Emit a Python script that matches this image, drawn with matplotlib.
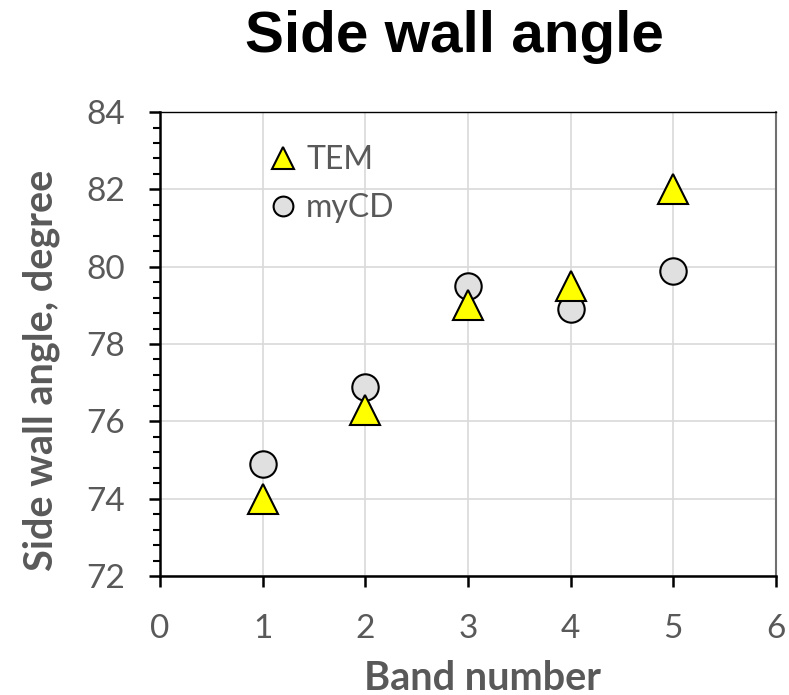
import numpy as np
import matplotlib.pyplot as plt
from matplotlib.ticker import MultipleLocator

# Data
band = [1, 2, 3, 4, 5]
tem = [74.0, 76.3, 79.0, 79.5, 82.0]
mycd = [74.9, 76.9, 79.5, 78.9, 79.9]

grey_text = '#595959'

fig = plt.figure(figsize=(7.89, 6.95), dpi=100)
ax = fig.add_axes([0.2028, 0.1712, 0.7807, 0.6676])

ax.plot(band, tem, linestyle='none', marker='^', markersize=21.5,
        markerfacecolor='#ffff00', markeredgecolor='black', markeredgewidth=1.5,
        label='TEM', zorder=4)
ax.plot(band, mycd, linestyle='none', marker='o', markersize=19,
        markerfacecolor='#e0e0e0', markeredgecolor='black', markeredgewidth=1.5,
        label='myCD', zorder=3)

ax.set_xlim(0, 6)
ax.set_ylim(72, 84)
ax.xaxis.set_major_locator(MultipleLocator(1))
ax.yaxis.set_major_locator(MultipleLocator(2))
ax.yaxis.set_minor_locator(MultipleLocator(0.4))

ax.grid(True, which='major', color='#d9d9d9', linewidth=1.2)
ax.set_axisbelow(True)

for side in ['left', 'bottom']:
    ax.spines[side].set_color('black')
    ax.spines[side].set_linewidth(1.8)
ax.spines['top'].set_color('black')
ax.spines['top'].set_linewidth(1.0)
ax.spines['right'].set_color('#707070')
ax.spines['right'].set_linewidth(1.5)

ax.tick_params(axis='both', which='major', direction='out', length=8, width=1.8,
               color='black', labelcolor=grey_text, labelsize=24)
ax.tick_params(axis='x', which='major', pad=19)
ax.tick_params(axis='y', which='major', pad=17)
ax.tick_params(axis='y', which='minor', direction='out', length=5, width=1.5,
               color='black')
for lbl in ax.get_xticklabels() + ax.get_yticklabels():
    lbl.set_fontfamily('Lato')

ax.set_xlabel('Band number', fontsize=28.5, fontweight='bold', color=grey_text,
              family='Lato')
ax.xaxis.set_label_coords(0.523, -0.18)
ax.set_ylabel('Side wall angle, degree', fontsize=28.5, fontweight='bold',
              color=grey_text, family='Lato')
ax.yaxis.set_label_coords(-0.163, 0.444)

fig.suptitle('Side wall angle', x=0.576, y=0.985, fontsize=42, fontweight='bold',
             family='Liberation Sans')

leg = ax.legend(loc='upper left', bbox_to_anchor=(0.122, 0.99), frameon=False,
                markerscale=0.75, handletextpad=0.12, labelspacing=0.55,
                handlelength=1.2, prop={'family': 'Lato', 'size': 23})
for txt in leg.get_texts():
    txt.set_color(grey_text)

fig.savefig('out.png', dpi=100)
